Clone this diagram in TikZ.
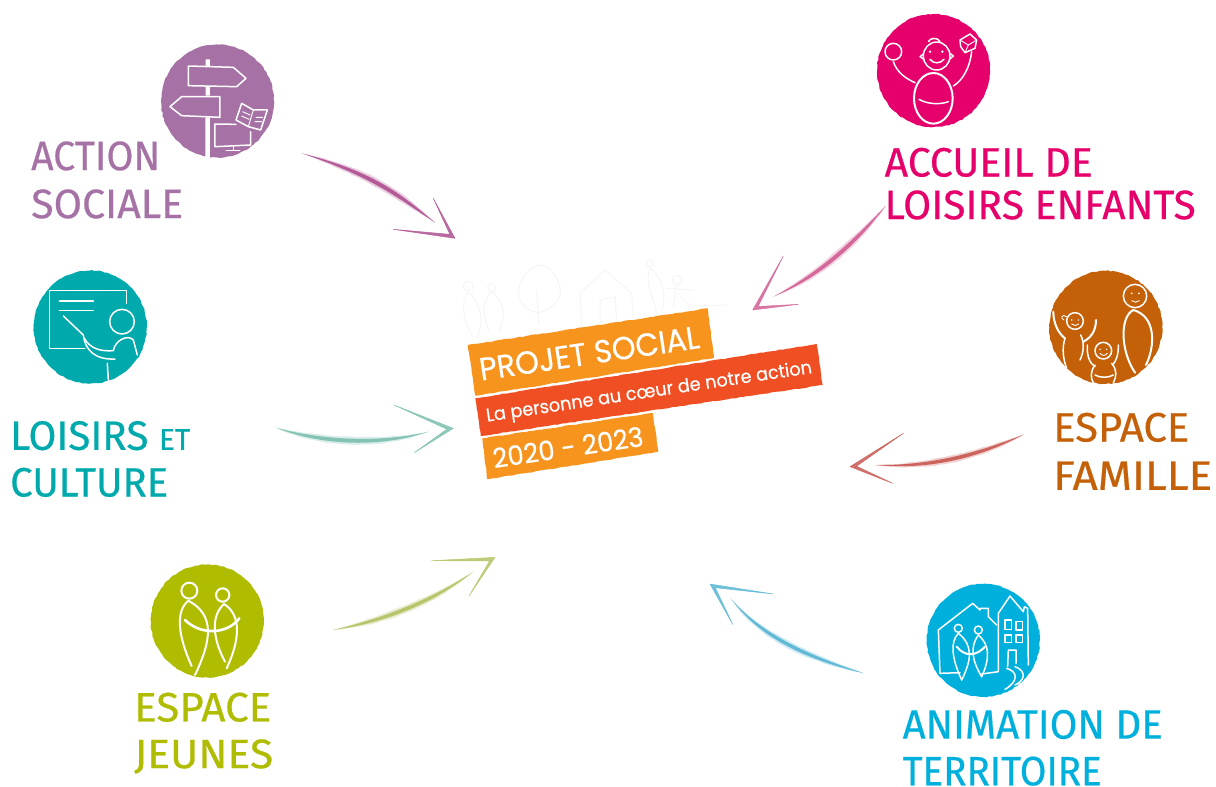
\documentclass[tikz,border=0pt]{standalone}
\usepackage{fontspec}
\usepackage{graphicx}
\setmainfont[FakeBold=0.5]{Fira Sans}
\newfontfamily\roundfont[FakeBold=0.4]{Poppins}
\usetikzlibrary{calc,decorations.pathmorphing}
\definecolor{cAction}{HTML}{A672A6}
\definecolor{cLoisirs}{HTML}{00A9AC}
\definecolor{cAccueil}{HTML}{E5006B}
\definecolor{cFamille}{HTML}{C46008}
\definecolor{cAnim}{HTML}{00B0DC}
\definecolor{cJeunes}{HTML}{AFBC00}
\definecolor{cOrange}{HTML}{F7941E}
\definecolor{cRed}{HTML}{F04E23}
\definecolor{aAction}{HTML}{B35A97}
\definecolor{aLoisirs}{HTML}{84C2B4}
\definecolor{aAccueil}{HTML}{D4689A}
\definecolor{aFamille}{HTML}{CB625C}
\definecolor{aAnim}{HTML}{62B9D6}
\definecolor{aJeunes}{HTML}{B9C56C}
\definecolor{cPale}{HTML}{F5F5F5}
\tikzset{
  x=1pt,y=-1pt,
  zoomframe/.style 2 args={shift={(#1,#2)},x=0.33333pt,y=-0.33333pt},
  disc/.style={circle,fill=#1,minimum size=113pt,inner sep=0pt,
    decorate,decoration={random steps,segment length=3pt,amplitude=.5pt}},
  chalk/.style={draw=white,line width=1.5pt,line cap=round,line join=round},
  chalkthin/.style={draw=white,line width=.9pt,line cap=round,line join=round},
  palestroke/.style={draw=cPale,line width=1pt,line cap=round,line join=round},
  labeltext/.style={anchor=south west,inner sep=0pt,align=left,text=#1},
  banner/.style={fill=#1,draw=none,decorate,decoration={random steps,segment length=4pt,amplitude=.4pt}},
  bannertext/.style={anchor=base west,inner sep=0pt,text=white,rotate=8.5},
  rough/.style={decorate,decoration={random steps,segment length=5pt,amplitude=.35pt}},
}
\newcommand{\fitw}[2]{\raisebox{0pt}[\height][0pt]{\resizebox{#1pt}{\height}{#2}}}
% tapered sketched arrow: id, colour, shaft A,B,C,D, far1, tip, far2 (normal offset in \myoff)
\newcommand{\chalkarrow}[9]{%
  \coordinate (#1start) at (#3);
  \coordinate (#1end) at (#6);
  \coordinate (#1tip) at (#8);
  \coordinate (#1fa) at (#7);
  \coordinate (#1fb) at (#9);
  \chalkarrowrest{#1}{#2}{#4}{#5}}
\newcommand{\chalkarrowrest}[4]{%
  \fill[#2,opacity=.3,rough] (#1start) .. controls ($(#3)+2*(\myoff)$) and ($(#4)+2*(\myoff)$) .. (#1end)
     .. controls ($(#4)-2*(\myoff)$) and ($(#3)-2*(\myoff)$) .. (#1start) -- cycle;
  \fill[#2] (#1start) .. controls ($(#3)+(\myoff)$) and ($(#4)+(\myoff)$) .. (#1end)
     .. controls ($(#4)-(\myoff)$) and ($(#3)-(\myoff)$) .. (#1start) -- cycle;
  \filldraw[#2,line width=.5pt,line join=round,opacity=.9] (#1fa) -- (#1tip) -- (#1fb) -- ($(#1tip)!6.5pt!(#1end)$) -- cycle;}
\newcommand{\lbl}[6]{\node[labeltext=#2,font={\fontsize{41}{#5}\selectfont}] (#1) at (#3,#4) {#6};}
\begin{document}
\begin{tikzpicture}
\useasboundingbox (0,0) rectangle (1216,787);

% pale drawing above the banner
\begin{scope}[zoomframe={440}{250}]
  \draw[palestroke] (85,108) circle (15) (155,112) circle (12);
  \draw[palestroke] (85,125) .. controls (60,160) and (70,210) .. (100,265);
  \draw[palestroke] (85,125) .. controls (130,170) and (130,220) .. (110,265);
  \draw[palestroke] (155,125) .. controls (120,160) and (130,200) .. (150,250);
  \draw[palestroke] (155,125) .. controls (200,160) and (195,210) .. (175,250);
  \draw[palestroke] (295,45) .. controls (230,70) and (210,160) .. (280,185) .. controls (300,195) and (360,170) .. (362,125) .. controls (360,90) and (330,40) .. (295,45);
  \draw[palestroke] (290,120) -- (296,225);
  \draw[palestroke] (420,130) -- (495,60) -- (575,130) -- (580,200);
  \draw[palestroke] (420,130) -- (425,230);
  \draw[palestroke] (480,215) -- (480,150) -- (525,140) -- (530,210);
  \draw[palestroke] (630,40) circle (10);
  \draw[palestroke] (632,55) .. controls (610,90) and (640,140) .. (650,190);
  \draw[palestroke] (632,55) .. controls (670,90) and (680,130) .. (665,185);
  \draw[palestroke] (710,90) circle (14);
  \draw[palestroke] (710,105) -- (700,170) (680,115) -- (760,120) (715,130) -- (750,165);
  \draw[palestroke] (760,168) -- (860,165);
\end{scope}

% central banner
\path[banner=cOrange] (467.7,345) -- (707.7,308.3) -- (714,358) -- (475.3,395.7) -- cycle;
\path[banner=cOrange] (482.3,438.3) -- (652.7,413) -- (658.3,451.7) -- (487.3,479.3) -- cycle;
\path[banner=cRed] (475.3,398.3) -- (816.7,344) -- (822.7,385) -- (480.7,436) -- cycle;
\node[bannertext,font={\roundfont\fontsize{32}{36}\selectfont}] (title) at (481,380.7) {\fitw{222}{PROJET SOCIAL}};
\node[bannertext,font={\roundfont\fontsize{18.5}{22}\selectfont}] (subtitle) at (487,421.7) {\fitw{329}{La personne au cœur de notre action}};
\node[bannertext,font={\roundfont\fontsize{27}{30}\selectfont}] (years) at (494,468.3) {\fitw{152}{2020 - 2023}};

% discs
\node[disc=cAction] (dAction) at (217.5,101) {};
\node[disc=cLoisirs] (dLoisirs) at (90.3,327) {};
\node[disc=cAccueil] (dAccueil) at (933.6,70.5) {};
\node[disc=cFamille] (dFamille) at (1105.8,327.3) {};
\node[disc=cAnim] (dAnim) at (983.3,640.3) {};
\node[disc=cJeunes] (dJeunes) at (207.3,621) {};

% labels
\lbl{lAction}{cAction}{31}{218.3}{48}{\fitw{129}{ACTION}\\\fitw{152}{SOCIALE}}
\lbl{lLoisirs}{cLoisirs}{10}{496.7}{46.7}{\fitw{180}{LOISIRS {\fontsize{30}{30}\selectfont ET}}\\\fitw{158}{CULTURE}}
\lbl{lAccueil}{cAccueil}{884.5}{219.3}{42.6}{\fitw{208}{ACCUEIL DE}\\\fitw{311}{LOISIRS ENFANTS}}
\lbl{lFamille}{cFamille}{1053}{490}{48.3}{\fitw{136}{ESPACE}\\\fitw{159}{FAMILLE}}
\lbl{lAnim}{cAnim}{902.5}{785.5}{46.7}{\fitw{260}{ANIMATION DE}\\\fitw{199}{TERRITOIRE}}
\lbl{lJeunes}{cJeunes}{134}{768.3}{46.7}{\fitw{137}{ESPACE}\\\fitw{139}{JEUNES}}

% icon: signpost, book, screen
\begin{scope}[zoomframe={20}{30}]
  \fill[white] (557,88) rectangle (570,108) (557,170) rectangle (570,197) (556,262) rectangle (570,385);
  \draw[chalk] (505,108) -- (640,112) -- (678,145) -- (650,170) -- (505,167) -- cycle;
  \draw[chalk] (600,200) -- (485,200) -- (450,230) -- (485,257) -- (600,262) -- cycle;
  \draw[chalk] (648,283) -- (585,282) -- (585,350) -- (692,345) -- (692,305);
  \draw[chalkthin] (640,350) -- (640,360) (618,360) -- (660,360);
  \draw[chalk] (665,220) -- (700,240) -- (742,240) -- (722,300) -- (685,290) -- (648,270) -- cycle;
  \draw[chalkthin] (700,240) -- (685,290);
  \draw[chalkthin] (668,245) -- (690,255) (665,258) -- (688,268) (708,262) -- (728,262) (705,275) -- (725,275);
\end{scope}

% icon: teacher at board
\begin{scope}[zoomframe={0}{260}]
  \draw[chalk] (380,130) -- (380,92) -- (148,92) -- (148,265) -- (255,265);
  \draw[chalk] (178,123) -- (280,123) (178,152) -- (280,152);
  \draw[chalk] (190,168) -- (250,225);
  \draw[chalk] (366,185) circle (37);
  \draw[chalk] (250,225) .. controls (255,270) and (285,300) .. (345,297);
  \draw[chalk] (253,235) .. controls (270,265) and (300,275) .. (340,272);
  \draw[chalk] (340,272) .. controls (345,240) and (385,222) .. (400,240) -- (412,285);
  \draw[chalk] (322,310) -- (325,360);
\end{scope}

% icon: child with ball and cube
\begin{scope}[zoomframe={740}{0}]
  \draw[chalk] (460,155) circle (25);
  \draw[chalk] (590,168) ellipse [x radius=40,y radius=42];
  \draw[chalk] (550,162) -- (540,170) -- (552,178) (630,160) -- (640,168) -- (628,178);
  \fill[white] (570,155) circle (4) (607,155) circle (4);
  \draw[chalk] (570,178) .. controls (580,192) and (600,192) .. (612,178);
  \draw[chalk] (565,125) .. controls (570,112) and (595,112) .. (600,125);
  \draw[chalk] (660,120) -- (690,102) -- (710,120) -- (705,145) -- (675,158) -- (662,140) -- cycle;
  \draw[chalkthin] (660,120) -- (685,135) -- (710,120) (685,135) -- (675,158);
  \draw[chalk] (460,185) .. controls (470,215) and (495,235) .. (525,248);
  \draw[chalk] (695,155) .. controls (690,200) and (670,240) .. (640,258);
  \draw[chalk,line width=2pt] (580,295) ellipse [x radius=58,y radius=76];
  \draw[chalk] (537,298) .. controls (560,312) and (600,315) .. (625,305);
\end{scope}

% icon: family
\begin{scope}[zoomframe={840}{260}]
  \draw[chalk] (885,108) circle (35);
  \fill[white] (875,100) circle (3) (897,100) circle (3);
  \draw[chalkthin] (875,122) .. controls (882,128) and (892,128) .. (898,122);
  \draw[chalk,line width=2pt] (880,150) .. controls (840,170) and (840,270) .. (885,338);
  \draw[chalk,line width=2pt] (880,150) .. controls (950,170) and (945,260) .. (918,315);
  \draw[chalk] (705,183) circle (25);
  \draw[chalkthin] (680,170) .. controls (665,160) and (660,175) .. (672,180);
  \fill[white] (695,180) circle (2.5) (715,180) circle (2.5);
  \draw[chalkthin] (695,192) .. controls (702,198) and (710,198) .. (716,192);
  \draw[chalk,line width=2pt] (640,155) .. controls (640,190) and (655,220) .. (675,235);
  \draw[chalk,line width=2pt] (768,180) .. controls (768,215) and (750,235) .. (730,245);
  \draw[chalk] (675,235) .. controls (665,265) and (670,300) .. (680,325);
  \draw[chalk] (722,225) .. controls (735,250) and (730,280) .. (720,300);
  \draw[chalk] (790,272) circle (25);
  \fill[white] (780,268) circle (2.5) (800,268) circle (2.5);
  \draw[chalkthin] (780,280) .. controls (787,288) and (795,288) .. (802,280);
  \draw[chalk] (742,255) .. controls (740,290) and (750,310) .. (765,320);
  \draw[chalk] (835,255) .. controls (835,285) and (830,300) .. (818,315);
  \draw[chalk] (765,315) .. controls (750,335) and (752,355) .. (760,368);
  \draw[chalk] (815,310) .. controls (832,330) and (830,350) .. (820,368);
  \draw[chalk] (765,345) .. controls (780,354) and (805,354) .. (820,345);
\end{scope}

% icon: houses with two people
\begin{scope}[zoomframe={690}{570}]
  \draw[chalk] (810,308) -- (750,310) -- (745,180) -- (848,100) -- (870,120) -- (870,115) -- (895,115) -- (895,140) -- (920,165);
  \draw[chalk] (875,312) -- (925,305) -- (925,130) -- (960,78) -- (1000,125) -- (1003,110) -- (1013,115) -- (1015,285);
  \draw[chalk] (945,150) rectangle (965,178) (978,155) rectangle (998,180) (945,195) rectangle (965,218) (978,195) rectangle (998,218);
  \draw[chalk] (953,290) -- (955,240) -- (978,240) -- (978,280);
  \draw[chalk] (950,295) .. controls (985,305) and (985,335) .. (945,358);
  \draw[chalk] (975,290) .. controls (1015,305) and (1000,335) .. (975,345);
  \draw[chalk] (805,175) circle (12) (865,180) circle (12);
  \draw[chalk] (805,190) .. controls (780,215) and (785,265) .. (815,330);
  \draw[chalk] (805,190) .. controls (850,225) and (845,270) .. (815,330);
  \draw[chalk] (865,195) .. controls (840,230) and (845,270) .. (875,320);
  \draw[chalk] (865,195) .. controls (900,225) and (900,265) .. (875,320);
  \draw[chalk,line width=2pt] (800,230) .. controls (825,262) and (860,258) .. (885,230);
\end{scope}

% icon: two young people
\begin{scope}[zoomframe={120}{540}]
  \draw[chalk,line width=2pt] (208,152) circle (24) (308,165) circle (20);
  \draw[chalk,line width=2pt] (205,182) .. controls (165,215) and (175,290) .. (215,378);
  \draw[chalk,line width=2pt] (205,182) .. controls (285,225) and (275,300) .. (225,405);
  \draw[chalk,line width=2pt] (312,192) .. controls (270,230) and (280,300) .. (315,365);
  \draw[chalk,line width=2pt] (312,192) .. controls (365,225) and (360,300) .. (320,385);
  \draw[chalk,line width=2.6pt] (195,240) .. controls (240,285) and (320,285) .. (358,235);
\end{scope}

% sketched arrows, each starting beside its label or disc
\begin{scope}[zoomframe={20}{30}]
  \def\myoff{-4,7}
  \chalkarrow{as}{aAction}{845,370}{1050,430}{1130,490}{1245,578}{1240,505}{1305,625}{1120,598}
\end{scope}
\begin{scope}[zoomframe={0}{260}]
  \def\myoff{0,8}
  \chalkarrow{al}{aLoisirs}{828,503}{950,545}{1130,560}{1285,515}{1182,435}{1360,505}{1243,578}
\end{scope}
\begin{scope}[zoomframe={740}{0}]
  \def\myoff{5,6}
  \chalkarrow{aa}{aAccueil}{437,618}{350,720}{250,820}{100,890}{130,768}{38,930}{175,913}
\end{scope}
\begin{scope}[zoomframe={840}{260}]
  \def\myoff{1.5,7}
  \chalkarrow{af}{aFamille}{552,523}{430,580}{280,625}{105,615}{190,520}{30,620}{158,670}
\end{scope}
\begin{scope}[zoomframe={690}{570}]
  \def\myoff{-3.5,6}
  \chalkarrow{at}{aAnim}{522,310}{380,270}{220,210}{122,85}{250,72}{60,42}{128,163}
\end{scope}
\begin{scope}[zoomframe={120}{540}]
  \def\myoff{3,7}
  \chalkarrow{aj}{aJeunes}{638,270}{780,245}{930,190}{1060,95}{935,62}{1125,52}{1047,168}
\end{scope}
\end{tikzpicture}
\end{document}
